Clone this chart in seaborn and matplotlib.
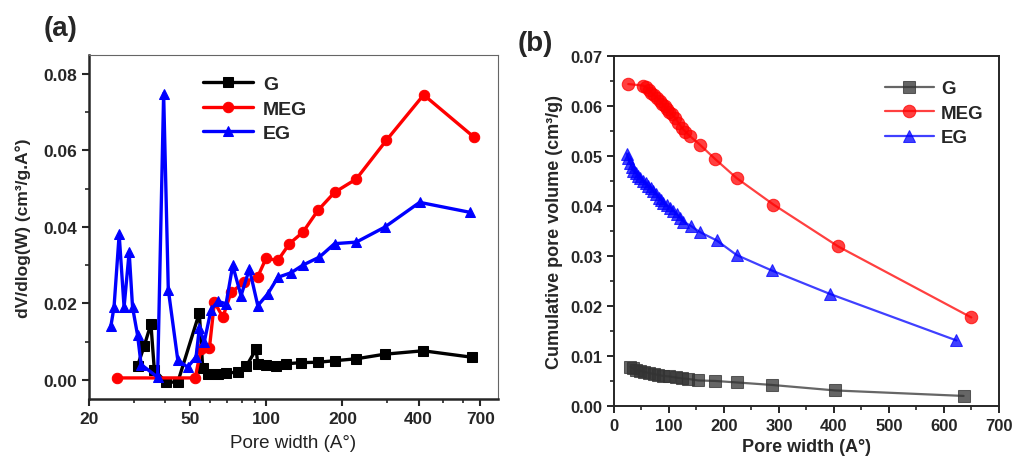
import matplotlib
matplotlib.use("Agg")
import matplotlib.pyplot as plt
from matplotlib.ticker import FixedLocator, MultipleLocator, NullFormatter
import seaborn as sns
import pandas as pd

# ---- panel (a): dV/dlog(W) vs pore width (log x) ----
g_a_width = [31.1, 33.0, 35.1, 36.2, 40.2, 44.8, 54.5, 56.2, 58.8, 64.4, 69.5,
             77.3, 83.4, 91.3, 92.7, 100, 109.5, 120, 137.5, 160.1, 186.2,
             226.9, 293.5, 416.4, 650.2]
g_a_dv = [0.0037, 0.0088, 0.0146, 0.0026, -0.0006, -0.0006, 0.0175, 0.0030,
          0.0015, 0.0016, 0.0018, 0.0020, 0.0035, 0.0080, 0.0042, 0.0038,
          0.0037, 0.0042, 0.0045, 0.0046, 0.0050, 0.0055, 0.0067, 0.0076,
          0.0059]

meg_a_width = [25.8, 52.5, 55.3, 59.7, 62.5, 67.5, 72.7, 82.1, 92.7, 100,
               111.2, 123.6, 139.7, 160.1, 186.2, 226.9, 298.1, 418.6, 662.3]
meg_a_dv = [0.0005, 0.0005, 0.0080, 0.0082, 0.0203, 0.0164, 0.0229, 0.0255,
            0.0270, 0.0318, 0.0312, 0.0356, 0.0386, 0.0443, 0.0490, 0.0525,
            0.0626, 0.0745, 0.0634]

eg_a_width = [24.4, 25.1, 26.3, 27.5, 28.8, 29.7, 31.1, 32.1, 37.3, 39.4, 41.1,
              44.8, 49.0, 52.9, 54.5, 57.0, 60.6, 64.4, 69.5, 73.8, 79.6, 85.9,
              92.7, 101.6, 111.2, 125.5, 139.7, 162.4, 186.2, 226.9, 293.5,
              403.6, 636.2]
eg_a_dv = [0.0141, 0.0190, 0.0380, 0.0190, 0.0334, 0.0190, 0.0116, 0.0040,
           0.0007, 0.0748, 0.0236, 0.0052, 0.0033, 0.0060, 0.0135, 0.0099,
           0.0183, 0.0205, 0.0199, 0.0299, 0.0220, 0.0290, 0.0194, 0.0225,
           0.0268, 0.0280, 0.0300, 0.0321, 0.0356, 0.0360, 0.0399, 0.0464,
           0.0438]

# ---- panel (b): cumulative pore volume vs pore width ----
g_b_width = [30, 35, 40, 48, 55, 63, 72, 80, 90, 100, 112, 124, 135, 153, 184,
             223, 287, 402, 636]
g_b_vol = [0.0078, 0.0075, 0.0072, 0.0070, 0.0068, 0.0066, 0.0064, 0.0062,
           0.0060, 0.0059, 0.0057, 0.0055, 0.0054, 0.0051, 0.0050, 0.0047,
           0.0042, 0.0031, 0.0020]

meg_b_width = [26, 53, 58, 63, 68, 73, 78, 83, 88, 92, 96, 100, 105, 111, 117,
               123, 130, 138, 156, 184, 223, 290, 408, 650]
meg_b_vol = [0.0644, 0.0641, 0.0638, 0.0633, 0.0627, 0.0622, 0.0617, 0.0611,
             0.0605, 0.0600, 0.0594, 0.0589, 0.0584, 0.0577, 0.0567, 0.0557,
             0.0549, 0.0540, 0.0523, 0.0494, 0.0456, 0.0403, 0.0319, 0.0177]

eg_b_width = [23, 26, 29, 32, 35, 40, 44, 48, 53, 58, 62, 67, 71, 76, 81, 86,
              90, 96, 102, 108, 114, 120, 126, 140, 156, 187, 223, 287, 393,
              623]
eg_b_vol = [0.0505, 0.0496, 0.0487, 0.0479, 0.0471, 0.0466, 0.0461, 0.0456,
            0.0451, 0.0446, 0.0441, 0.0436, 0.0431, 0.0424, 0.0417, 0.0412,
            0.0407, 0.0402, 0.0397, 0.0391, 0.0384, 0.0377, 0.0369, 0.0360,
            0.0348, 0.0331, 0.0302, 0.0271, 0.0224, 0.0131]

sns.set_style("ticks")
plt.rcParams["font.family"] = ["Liberation Sans", "DejaVu Sans"]

fig = plt.figure(figsize=(10.14, 4.64), dpi=100)
ax_a = fig.add_axes([0.0878, 0.138, 0.403, 0.742])
ax_b = fig.add_axes([0.6055, 0.123, 0.3795, 0.754])

series_a = [("G", g_a_width, g_a_dv, "black", "s"),
            ("MEG", meg_a_width, meg_a_dv, "#ff0000", "o"),
            ("EG", eg_a_width, eg_a_dv, "#0000ff", "^")]
for name, x, y, color, marker in series_a:
    df = pd.DataFrame({"width": x, "dv": y})
    sns.lineplot(data=df, x="width", y="dv", ax=ax_a, color=color,
                 marker=marker, markersize=7.5, markeredgecolor=color,
                 linewidth=2.4, estimator=None, label=name)

ax_a.set_xscale("log")
ax_a.set_xlim(20, 820)
ax_a.set_ylim(-0.005, 0.085)
ax_a.xaxis.set_major_locator(FixedLocator([20, 50, 100, 200, 400, 700]))
ax_a.xaxis.set_minor_locator(FixedLocator([30, 40, 60, 70, 80, 90, 300, 500, 600]))
ax_a.xaxis.set_minor_formatter(NullFormatter())
ax_a.set_xticklabels(["20", "50", "100", "200", "400", "700"])
ax_a.yaxis.set_major_locator(MultipleLocator(0.02))
ax_a.yaxis.set_minor_locator(MultipleLocator(0.01))
ax_a.yaxis.set_major_formatter(matplotlib.ticker.FormatStrFormatter("%.2f"))
ax_a.set_xlabel("Pore width (A°)", fontsize=13.5, color="#222222", labelpad=6)
ax_a.set_ylabel("dV/dlog(W) (cm³/g.A°)", fontsize=12.5, fontweight="bold",
                labelpad=9)
for sp in ["left", "bottom"]:
    ax_a.spines[sp].set_linewidth(1.8)
for sp in ["top", "right"]:
    ax_a.spines[sp].set_linewidth(0.8)
    ax_a.spines[sp].set_color("#666666")
ax_a.tick_params(which="major", direction="out", length=5, width=1.5,
                 labelsize=12.5)
ax_a.tick_params(which="minor", direction="out", length=3, width=1.2)
for lab in ax_a.get_xticklabels() + ax_a.get_yticklabels():
    lab.set_fontweight("bold")
ax_a.legend(loc="upper left", bbox_to_anchor=(0.235, 0.99), frameon=False,
            prop={"size": 14, "weight": "bold"}, handlelength=2.6,
            handletextpad=0.5, labelspacing=0.35)
ax_a.text(-0.11, 1.04, "(a)", transform=ax_a.transAxes, fontsize=20,
          fontweight="bold", va="bottom", ha="left")

series_b = [("G", g_b_width, g_b_vol, "#333333", "s"),
            ("MEG", meg_b_width, meg_b_vol, "#ff0000", "o"),
            ("EG", eg_b_width, eg_b_vol, "#0000ff", "^")]
for name, x, y, color, marker in series_b:
    df = pd.DataFrame({"width": x, "vol": y})
    sns.lineplot(data=df, x="width", y="vol", ax=ax_b, color=color,
                 marker=marker, markersize=9, markeredgecolor=color,
                 linewidth=1.6, alpha=0.75, estimator=None, label=name)

ax_b.set_xlim(0, 700)
ax_b.set_ylim(0, 0.07)
ax_b.xaxis.set_major_locator(MultipleLocator(100))
ax_b.xaxis.set_minor_locator(MultipleLocator(50))
ax_b.yaxis.set_major_locator(MultipleLocator(0.01))
ax_b.yaxis.set_minor_locator(MultipleLocator(0.005))
ax_b.yaxis.set_major_formatter(matplotlib.ticker.FormatStrFormatter("%.2f"))
ax_b.set_xlabel("Pore width (A°)", fontsize=13, fontweight="bold", labelpad=4)
ax_b.set_ylabel("Cumulative pore volume (cm³/g)", fontsize=13,
                fontweight="bold", labelpad=5)
for sp in ax_b.spines.values():
    sp.set_linewidth(1.4)
ax_b.tick_params(which="major", direction="out", length=5, width=1.4,
                 labelsize=12)
ax_b.tick_params(which="minor", direction="out", length=3, width=1.2)
for lab in ax_b.get_xticklabels() + ax_b.get_yticklabels():
    lab.set_fontweight("bold")
ax_b.legend(loc="upper left", bbox_to_anchor=(0.66, 0.98), frameon=False,
            prop={"size": 13.5, "weight": "bold"}, handlelength=2.6,
            handletextpad=0.4, labelspacing=0.4)
ax_b.text(-0.25, 1.0, "(b)", transform=ax_b.transAxes, fontsize=20,
          fontweight="bold", va="bottom", ha="left")

fig.savefig("out.png", dpi=100)
